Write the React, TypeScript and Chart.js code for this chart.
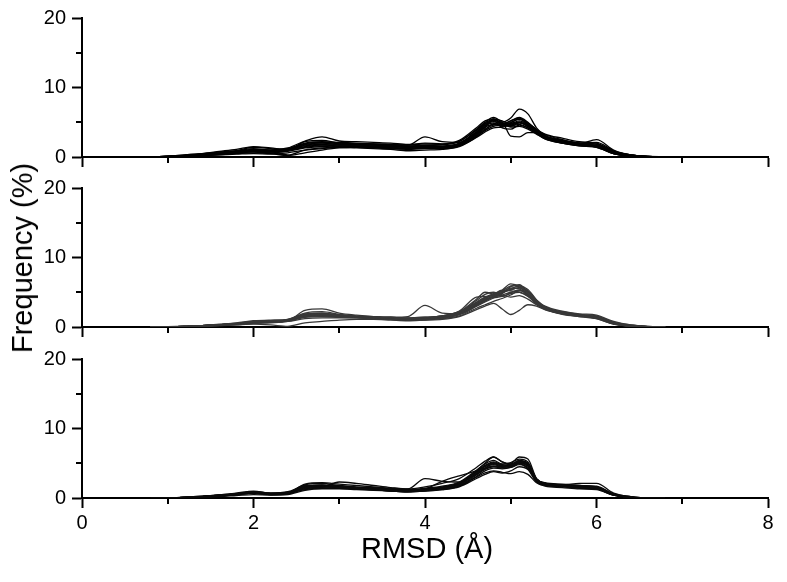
import React, { useEffect, useRef } from "react";
import { Chart, registerables } from "chart.js";

Chart.register(...registerables);

// ---------------- DATA ----------------
const RMSD = [0.8, 1.0, 1.2, 1.4, 1.6, 1.8, 2.0, 2.2, 2.4, 2.6, 2.8, 3.0, 3.2, 3.4, 3.6, 3.8, 4.0, 4.2, 4.4, 4.6, 4.7, 4.8, 4.9, 5.0, 5.1, 5.2, 5.3, 5.4, 5.6, 5.8, 6.0, 6.2, 6.4, 6.6, 6.8];

const X_TICK_LABELS = ["0", "", "2", "", "4", "", "6", "", "8"];
const Y_TICK_LABELS = ["0", "", "10", "", "20"];
const X_MINOR = [1, 3, 5, 7];
const Y_MINOR = [5, 15];

const TOP_RUNS = [
  [0,0.1,0.2,0.3,0.5,0.7,0.9,0.8,1.0,1.9,2.1,1.9,1.8,1.8,1.7,1.6,1.7,1.6,2.0,3.6,4.6,5.1,4.7,4.8,5.2,4.6,3.6,2.9,2.2,1.8,1.7,0.7,0.2,0.05,0],
  [0,0.1,0.3,0.5,0.7,0.9,1.2,1.0,1.1,1.6,1.8,1.7,1.7,1.6,1.5,1.4,1.5,1.4,1.8,3.2,4.2,5.5,5.2,4.6,4.9,4.4,3.4,2.7,2.0,1.6,1.4,0.5,0.1,0,0],
  [0,0.05,0.1,0.2,0.4,0.6,0.8,0.7,0.9,2.2,2.4,2.0,1.9,1.9,1.8,1.7,2.9,2.2,2.1,3.8,4.8,5.2,4.2,4.0,4.6,4.2,3.8,3.2,2.5,2.0,1.9,0.8,0.3,0.1,0],
  [0,0.1,0.2,0.4,0.6,0.9,1.4,1.2,1.0,1.4,1.6,1.5,1.4,1.3,1.2,1.1,1.2,1.2,1.7,3.0,3.8,4.4,4.6,5.2,5.7,5.0,3.9,3.0,2.3,1.8,1.5,0.6,0.2,0,0],
  [0,0,0.1,0.2,0.3,0.4,0.5,0.4,0.6,1.0,1.2,1.4,1.3,1.2,1.1,0.9,1.0,1.1,1.6,3.4,4.4,5.3,5.0,5.6,6.9,6.2,4.2,3.1,2.4,2.0,2.1,0.9,0.3,0.1,0],
  [0,0.1,0.2,0.3,0.5,0.7,1.0,0.9,1.2,2.0,2.2,2.1,2.0,1.9,1.8,1.7,1.9,1.8,2.2,4.0,5.0,5.7,5.0,4.3,4.4,4.0,3.3,2.6,2.0,1.7,1.5,0.5,0.2,0,0],
  [0,0.05,0.15,0.3,0.45,0.6,0.8,0.6,0.3,1.0,1.3,1.4,1.5,1.5,1.4,1.3,1.4,1.3,1.6,2.9,3.9,4.8,4.9,3.0,2.9,3.5,3.5,2.8,2.1,1.7,1.6,0.6,0.2,0.05,0],
  [0,0.1,0.2,0.4,0.6,0.8,1.1,1.0,1.2,1.8,2.0,1.8,1.7,1.7,1.6,1.5,1.6,1.5,1.9,3.5,4.5,4.9,4.4,4.9,5.5,4.8,3.7,2.9,2.3,1.9,2.5,1.0,0.3,0.1,0],
  [0,0.1,0.2,0.3,0.4,0.6,0.7,0.6,0.8,1.3,1.5,1.6,1.6,1.5,1.5,1.4,1.5,1.4,1.8,3.3,4.3,4.7,4.5,5.0,5.4,4.7,3.8,3.0,2.4,2.0,1.8,0.7,0.2,0.05,0],
  [0,0.1,0.2,0.3,0.5,0.8,1.0,1.0,1.3,2.3,2.9,2.3,2.2,2.1,2.0,1.8,2.0,1.9,2.4,4.2,5.2,5.5,4.8,4.5,4.7,4.2,3.4,2.6,2.0,1.6,1.4,0.5,0.1,0,0],
  [0,0.1,0.3,0.5,0.8,1.1,1.5,1.3,1.1,1.5,1.7,1.6,1.5,1.4,1.3,1.2,1.3,1.2,1.5,2.8,3.6,4.2,4.3,4.7,5.0,4.5,3.7,3.0,2.4,2.0,1.6,0.5,0.1,0,0],
  [0,0.05,0.1,0.2,0.3,0.5,0.6,0.5,0.2,0.6,1.0,1.3,1.4,1.4,1.3,1.2,1.3,1.3,1.7,3.1,4.0,4.6,4.7,5.2,5.6,4.9,4.0,3.3,2.7,2.2,2.0,0.8,0.3,0.1,0],
  [0,0.1,0.2,0.3,0.5,0.7,0.9,0.8,1.0,1.7,1.9,1.8,1.8,1.7,1.6,1.5,1.6,1.5,1.9,3.6,4.7,5.3,4.8,4.6,5.0,4.4,3.5,2.7,2.1,1.7,1.6,0.6,0.2,0.05,0],
  [0,0.1,0.2,0.4,0.5,0.7,0.9,0.8,1.1,1.9,2.1,2.0,1.9,1.8,1.6,1.4,1.7,1.8,2.3,3.9,4.9,5.4,4.6,4.4,4.9,4.5,3.6,2.8,2.2,1.8,1.6,0.7,0.2,0.1,0],
];

const MIDDLE_RUNS = [
  [0,0.05,0.1,0.2,0.3,0.5,0.8,0.9,1.0,1.7,1.8,1.6,1.5,1.4,1.3,1.2,1.3,1.5,2.0,3.2,3.8,4.4,5.0,5.6,5.5,4.5,3.3,2.6,1.9,1.6,1.3,0.5,0.15,0.05,0],
  [0,0.05,0.1,0.2,0.4,0.6,0.9,1.0,1.1,2.0,2.2,1.8,1.6,1.5,1.4,1.3,1.4,1.6,2.2,3.6,4.3,4.8,5.2,5.9,6.0,4.8,3.5,2.8,2.0,1.7,1.4,0.6,0.2,0.05,0],
  [0,0,0.05,0.1,0.2,0.3,0.5,0.6,0.8,1.4,1.5,1.4,1.3,1.2,1.1,1.0,1.1,1.3,1.8,3.0,3.6,4.2,4.8,5.8,6.1,5.0,3.6,2.7,2.0,1.6,1.2,0.4,0.1,0,0],
  [0,0.05,0.1,0.2,0.3,0.5,0.7,0.8,0.9,2.4,2.6,2.0,1.7,1.5,1.4,1.3,1.4,1.6,2.1,3.8,4.7,5.0,4.6,4.3,4.5,4.0,3.2,2.5,1.9,1.5,1.2,0.4,0.1,0,0],
  [0,0.05,0.1,0.2,0.3,0.4,0.6,0.7,0.9,1.6,1.7,1.5,1.4,1.3,1.4,1.5,3.1,2.0,1.9,3.0,3.7,4.5,5.3,6.2,5.8,4.6,3.4,2.6,1.8,1.5,1.3,0.5,0.2,0.05,0],
  [0,0,0.05,0.1,0.2,0.3,0.4,0.3,0.1,0.6,0.8,1.0,1.1,1.1,1.0,0.9,1.0,1.1,1.5,2.5,3.0,3.4,2.6,1.8,2.4,3.2,3.0,2.5,2.0,1.7,1.5,0.6,0.2,0.05,0],
  [0,0.05,0.1,0.2,0.3,0.5,0.7,0.8,1.0,1.8,1.9,1.7,1.5,1.4,1.3,1.2,1.2,1.4,2.0,3.4,4.1,4.6,5.1,5.3,5.7,5.2,3.8,2.9,2.1,1.7,1.4,0.5,0.2,0.05,0],
  [0,0.05,0.1,0.2,0.3,0.5,0.7,0.8,0.9,1.5,1.6,1.5,1.4,1.3,1.2,1.1,1.2,1.4,1.9,3.3,4.0,4.3,4.6,5.0,5.3,4.7,3.7,2.8,2.2,1.8,1.6,0.7,0.3,0.1,0],
  [0,0.05,0.1,0.15,0.25,0.4,0.6,0.7,0.8,1.2,1.3,1.3,1.3,1.2,1.1,1.0,1.0,1.2,1.6,2.7,3.2,3.7,4.1,4.6,5.2,5.1,3.9,3.0,2.3,1.9,1.7,0.8,0.3,0.1,0],
  [0,0.05,0.1,0.2,0.35,0.55,0.8,0.9,1.1,1.9,2.0,1.7,1.5,1.4,1.3,1.2,1.3,1.5,2.1,3.5,4.2,4.7,5.3,5.2,5.0,4.4,3.4,2.7,2.0,1.6,1.3,0.5,0.15,0,0],
  [0,0.05,0.1,0.2,0.3,0.45,0.6,0.7,0.9,1.6,1.7,1.6,1.4,1.3,1.2,1.1,1.2,1.3,1.8,3.2,3.9,4.4,4.9,5.5,5.9,5.4,3.9,2.8,2.0,1.6,1.4,0.6,0.2,0.05,0],
  [0,0.05,0.1,0.2,0.3,0.5,0.7,0.8,1.0,1.7,1.9,1.6,1.5,1.4,1.3,1.2,1.3,1.5,2.2,4.0,5.0,4.7,4.4,4.9,5.3,4.6,3.5,2.7,2.0,1.6,1.3,0.5,0.15,0.05,0],
  [0,0.05,0.1,0.2,0.3,0.45,0.65,0.75,0.9,1.5,1.6,1.5,1.4,1.3,1.2,1.1,1.2,1.4,1.8,3.1,3.8,4.4,4.9,5.4,5.6,5.0,3.6,2.7,2.1,1.7,1.5,0.6,0.2,0.05,0],
  [0,0.05,0.1,0.2,0.3,0.5,0.8,0.9,1.0,1.8,2.0,1.7,1.5,1.4,1.3,1.2,1.3,1.6,2.3,4.3,4.4,4.2,4.4,4.8,5.0,4.5,3.5,2.7,2.1,1.7,1.3,0.5,0.15,0.05,0],
];

const BOTTOM_RUNS = [
  [0,0,0.1,0.2,0.4,0.6,0.9,0.6,0.8,1.6,1.7,1.5,1.4,1.3,1.1,1.0,1.2,1.4,1.9,3.6,4.6,5.0,4.6,4.5,4.9,4.2,2.6,2.0,1.8,1.6,1.5,0.5,0.1,0,0],
  [0,0,0.1,0.25,0.45,0.7,1.0,0.7,0.9,1.8,1.9,1.7,1.5,1.4,1.2,1.1,1.3,1.5,2.1,3.9,5.0,5.9,5.2,4.8,5.3,5.0,2.7,2.1,1.9,1.7,1.6,0.5,0.1,0,0],
  [0,0,0.05,0.15,0.3,0.5,0.8,0.5,0.7,1.5,1.6,1.5,1.3,1.2,1.0,0.9,1.1,1.3,1.8,3.3,4.2,4.6,4.4,4.7,5.2,4.8,2.5,1.9,1.7,1.5,1.4,0.4,0.1,0,0],
  [0,0,0.1,0.2,0.35,0.55,0.8,0.6,0.7,2.0,2.2,2.0,1.8,1.6,1.4,1.3,2.8,2.4,2.3,3.8,4.6,5.1,4.7,4.9,5.9,5.6,2.8,2.1,1.9,1.8,1.7,0.6,0.2,0,0],
  [0,0,0.05,0.1,0.2,0.35,0.5,0.4,0.5,1.1,1.3,1.3,1.2,1.1,1.0,0.9,1.0,1.2,1.7,3.0,3.6,3.9,3.7,3.5,3.8,3.4,2.2,1.7,1.5,1.3,1.2,0.4,0.1,0,0],
  [0,0,0.1,0.2,0.4,0.6,0.9,0.7,0.8,1.7,1.8,1.6,1.5,1.4,1.2,1.1,1.3,2.4,3.2,3.9,4.3,4.6,4.5,4.6,5.0,4.6,2.6,2.0,1.8,1.6,1.5,0.5,0.1,0,0],
  [0,0,0.1,0.2,0.3,0.5,0.7,0.5,0.6,1.4,1.6,2.3,2.1,1.8,1.5,1.3,1.6,2.1,2.8,4.4,5.3,5.9,5.2,4.9,5.3,4.9,2.7,2.1,1.9,2.1,2.1,0.7,0.2,0,0],
  [0,0,0.1,0.2,0.4,0.6,0.8,0.6,0.7,1.5,1.7,1.6,1.4,1.3,1.1,1.0,1.2,1.4,2.0,3.4,4.1,4.5,4.3,4.4,4.8,4.4,2.4,1.9,1.7,1.5,1.4,0.5,0.1,0,0],
  [0,0,0.05,0.15,0.3,0.45,0.7,0.5,0.6,1.3,1.5,1.4,1.3,1.2,1.0,0.9,1.0,1.2,1.6,2.8,3.4,3.8,3.6,3.9,4.5,4.1,2.3,1.8,1.6,1.4,1.3,0.4,0.1,0,0],
  [0,0,0.1,0.25,0.45,0.65,0.9,0.7,0.8,1.9,2.1,1.8,1.6,1.5,1.3,1.2,1.4,1.7,2.3,4.0,4.9,5.4,4.9,5.1,5.6,5.2,2.8,2.2,2.0,1.8,1.6,0.6,0.1,0,0],
  [0,0,0.1,0.2,0.35,0.5,0.7,0.55,0.7,1.6,1.8,1.7,1.5,1.3,1.2,1.1,1.3,1.5,2.1,3.7,4.5,4.8,4.5,4.6,5.1,4.7,2.6,2.0,1.8,1.6,1.5,0.5,0.1,0,0],
  [0,0,0.05,0.15,0.3,0.5,0.7,0.5,0.7,1.2,1.4,1.4,1.3,1.2,1.1,1.0,1.1,1.3,1.7,3.1,3.9,4.3,4.2,4.4,5.0,4.6,2.5,1.9,1.7,1.5,1.3,0.4,0.1,0,0],
  [0,0,0.1,0.2,0.4,0.6,0.85,0.6,0.75,1.7,1.8,1.6,1.4,1.3,1.2,1.1,1.3,1.6,2.2,3.8,4.7,5.2,4.8,4.7,5.2,4.9,2.7,2.0,1.8,1.6,1.5,0.5,0.1,0,0],
  [0,0,0.1,0.2,0.35,0.55,0.8,0.6,0.7,1.6,1.8,1.7,1.5,1.4,1.2,1.0,1.2,1.5,2.0,3.5,4.3,4.9,4.6,4.8,5.4,5.0,2.6,2.0,1.8,1.6,1.4,0.5,0.1,0,0],
];

const X_TITLE = "RMSD (Å)";
const Y_TITLE = "Frequency (%)";

// ---------------- CHART ----------------
const FONT = "'Liberation Sans', Arial, Helvetica, sans-serif";

const minorTicks = {
  id: "minorTicks",
  afterDraw(chart: any) {
    const { ctx, chartArea } = chart;
    const xs = chart.scales.x;
    const ys = chart.scales.y;
    ctx.save();
    ctx.strokeStyle = "#000";
    ctx.lineWidth = 2;
    for (const v of Y_MINOR) {
      const py = Math.round(ys.getPixelForValue(v));
      ctx.beginPath();
      ctx.moveTo(chartArea.left - 6, py);
      ctx.lineTo(chartArea.left, py);
      ctx.stroke();
    }
    for (const v of X_MINOR) {
      const px = Math.round(xs.getPixelForValue(v));
      ctx.beginPath();
      ctx.moveTo(px, chartArea.bottom);
      ctx.lineTo(px, chartArea.bottom + 6);
      ctx.stroke();
    }
    ctx.restore();
  },
};

function Panel({ runs, color, showX, height, top }: { runs: number[][]; color: string; showX: boolean; height: number; top: number }) {
  const ref = useRef<HTMLCanvasElement | null>(null);
  useEffect(() => {
    if (!ref.current) return;
    const datasets = runs.map((run, i) => ({
      label: "run " + (i + 1),
      data: run.map((v, j) => ({ x: RMSD[j], y: v })),
      borderColor: color,
      borderWidth: 1.3,
      pointRadius: 0,
      fill: false,
      tension: 0.4,
      cubicInterpolationMode: "monotone" as const,
    }));
    const chart = new Chart(ref.current, {
      type: "line",
      data: { datasets },
      plugins: [minorTicks],
      options: {
        animation: false,
        responsive: false,
        maintainAspectRatio: false,
        devicePixelRatio: 1,
        layout: { padding: { top: 15, right: 19, left: 0, bottom: 0 } },
        plugins: { legend: { display: false }, tooltip: { enabled: false }, title: { display: false } },
        scales: {
          x: {
            type: "linear",
            min: 0,
            max: 8,
            afterFit: (s: any) => {
              s.height = height - 15 - 142;
            },
            border: { display: true, color: "#000", width: 2 },
            grid: {
              display: true,
              drawOnChartArea: false,
              drawTicks: true,
              tickLength: 10,
              tickWidth: 2,
              tickColor: (c: any) => (c.tick && c.tick.value % 2 === 0 ? "#000" : "rgba(0,0,0,0)"),
            },
            ticks: {
              stepSize: 1,
              autoSkip: false,
              maxRotation: 0,
              padding: 3,
              color: "#000",
              font: { family: FONT, size: 20 },
              callback: (v: any) => (showX ? X_TICK_LABELS[Math.round(Number(v))] ?? "" : ""),
            },
          },
          y: {
            type: "linear",
            min: 0,
            max: 20,
            afterFit: (s: any) => {
              s.width = 82;
            },
            border: { display: true, color: "#000", width: 2 },
            grid: {
              display: true,
              drawOnChartArea: false,
              drawTicks: true,
              tickLength: 10,
              tickWidth: 2,
              tickColor: (c: any) => (c.tick && c.tick.value % 10 === 0 ? "#000" : "rgba(0,0,0,0)"),
            },
            ticks: {
              stepSize: 5,
              padding: 6,
              color: "#000",
              font: { family: FONT, size: 20 },
              callback: (v: any) => Y_TICK_LABELS[Math.round(Number(v) / 5)] ?? "",
            },
          },
        },
      },
    });
    return () => chart.destroy();
  }, [runs, color, showX, height]);
  return (
    <canvas
      ref={ref}
      width={787}
      height={height}
      style={{ position: "absolute", left: 0, top, width: 787, height }}
    />
  );
}

export default function App() {
  return (
    <div style={{ position: "fixed", left: 0, top: 0, width: 787, height: 582, background: "#fff", overflow: "hidden" }}>
      <Panel runs={TOP_RUNS} color="#000" showX={false} height={175} top={0} />
      <Panel runs={MIDDLE_RUNS} color="#383838" showX={false} height={175} top={170} />
      <Panel runs={BOTTOM_RUNS} color="#0a0a0a" showX={true} height={241} top={341} />
      <div
        style={{
          position: "absolute",
          left: 22,
          top: 258,
          transform: "translate(-50%, -50%) rotate(-90deg)",
          whiteSpace: "nowrap",
          fontFamily: FONT,
          fontSize: 29,
          lineHeight: "34px",
          color: "#000",
        }}
      >
        {Y_TITLE}
      </div>
      <div
        style={{
          position: "absolute",
          left: 427,
          top: 548,
          transform: "translate(-50%, -50%)",
          whiteSpace: "nowrap",
          fontFamily: FONT,
          fontSize: 29,
          lineHeight: "34px",
          color: "#000",
        }}
      >
        {X_TITLE}
      </div>
    </div>
  );
}
